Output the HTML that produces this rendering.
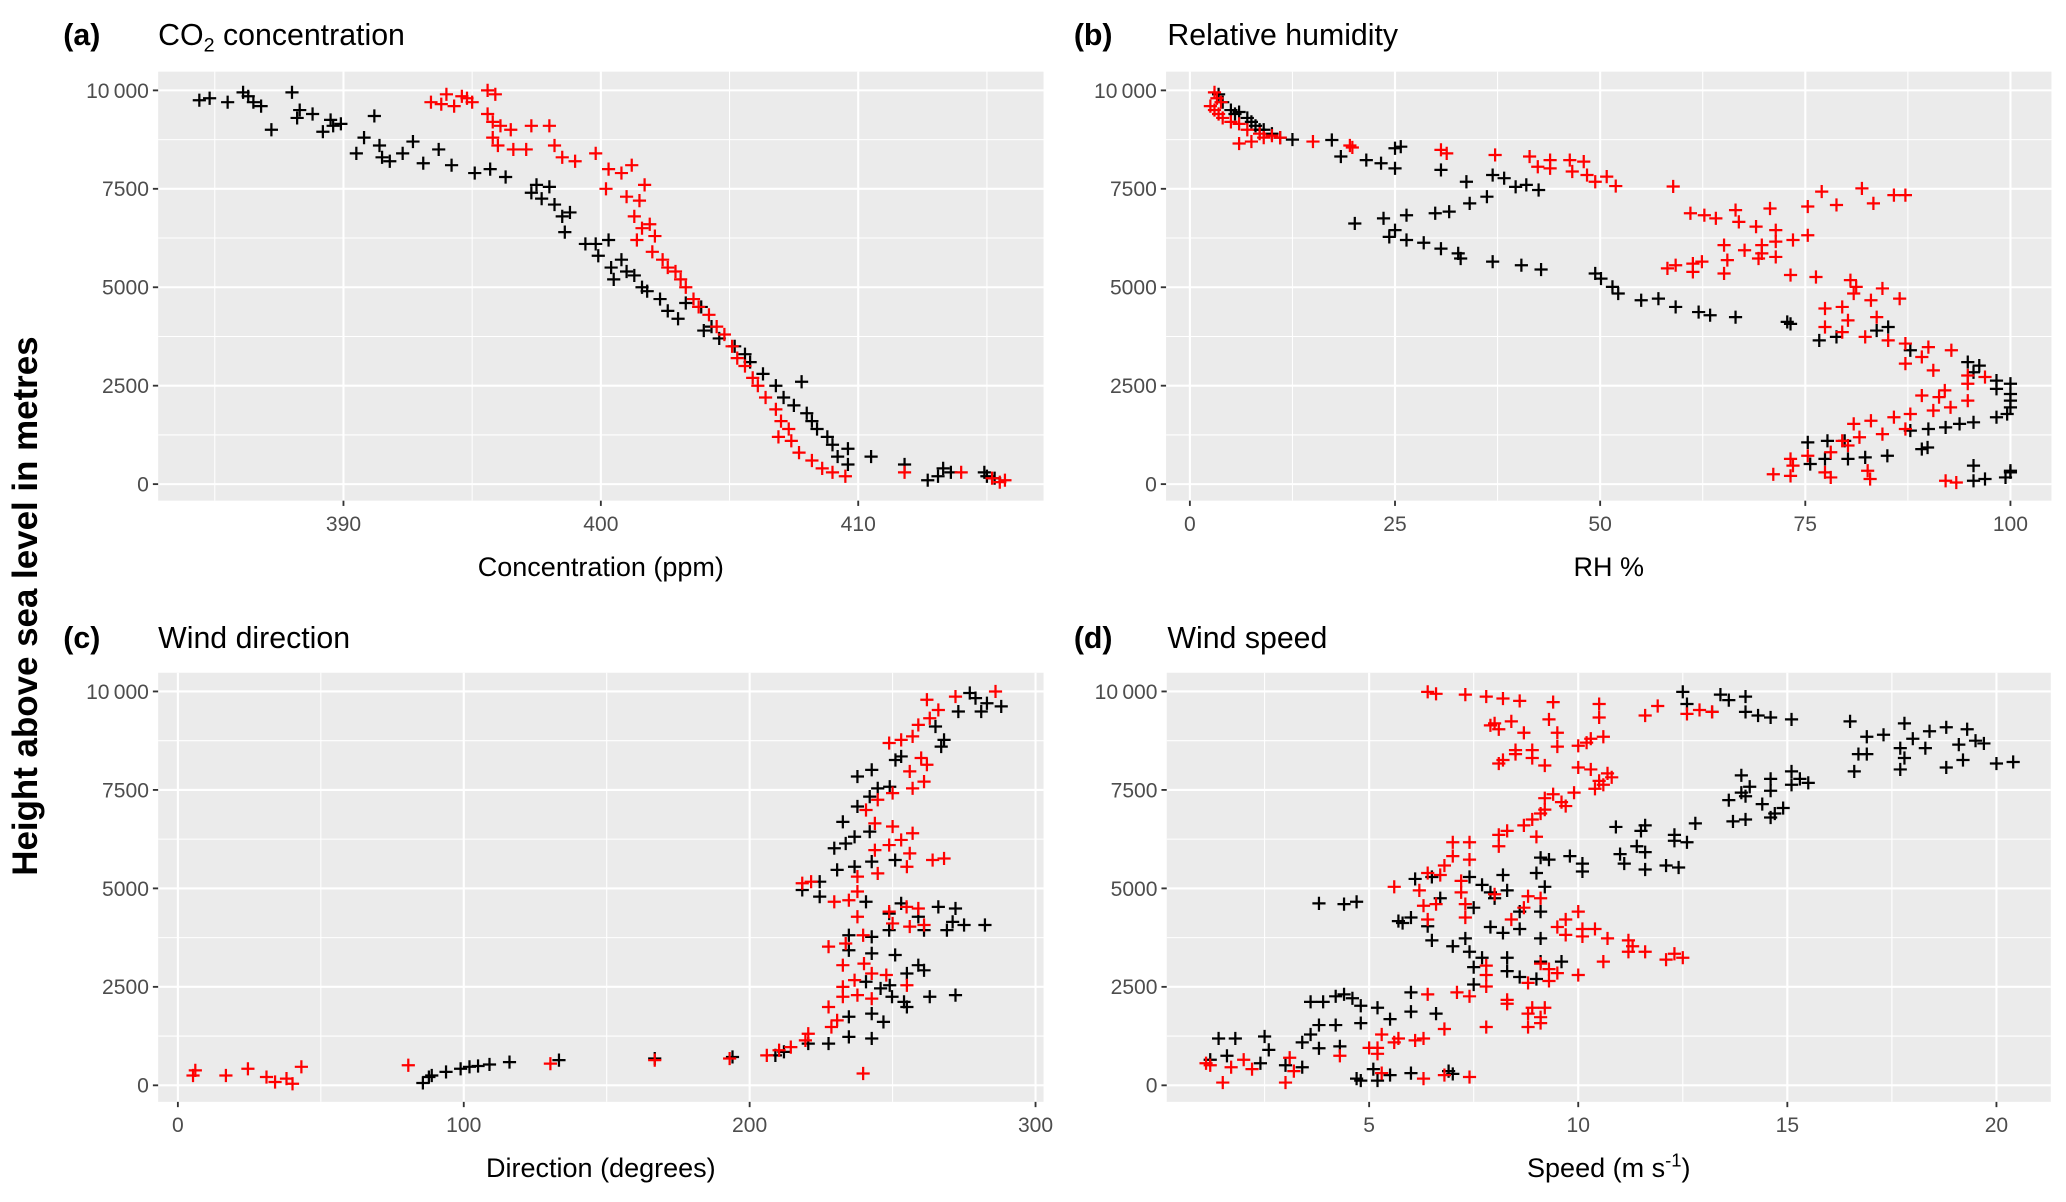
<!DOCTYPE html>
<html><head><meta charset="utf-8"><style>
html,body{margin:0;padding:0;background:#fff;}
svg{display:block;font-family:"Liberation Sans",Arial,sans-serif;}
</style></head><body>
<svg id="fig" width="2066" height="1202" viewBox="0 0 1568 912.3" xmlns="http://www.w3.org/2000/svg">
<text x="0" y="0" transform="translate(28,460) rotate(-90)" text-anchor="middle" font-size="26.5" font-weight="bold">Height above sea level in metres</text>
</svg>
<script>
// ---------- data (x value, height in m) ----------
const co2Black = [[384.4,9750],[384.8,9800],[385.5,9700],[386.1,9950],[386.3,9850],[386.5,9700],[386.8,9600],[387.2,9000],[388.0,9950],[388.2,9300],[388.3,9500],[388.8,9400],[389.2,8950],[389.5,9250],[389.6,9100],[389.9,9150],[390.5,8400],[390.8,8800],[391.2,9350],[391.4,8600],[391.5,8300],[391.8,8200],[392.3,8400],[392.7,8700],[393.1,8150],[393.7,8500],[394.2,8100],[395.1,7900],[395.7,8000],[396.3,7800],[397.3,7400],[397.5,7600],[397.7,7250],[398.0,7550],[398.2,7100],[398.5,6800],[398.8,6900],[398.6,6400],[399.4,6100],[399.8,6100],[399.9,5800],[400.3,6200],[400.4,5500],[400.5,5200],[400.8,5700],[401.0,5400],[401.3,5300],[401.6,5000],[401.8,4900],[402.3,4700],[402.6,4400],[403.0,4200],[403.3,4600],[403.9,4500],[404.0,3900],[404.3,4000],[404.6,3700],[405.2,3500],[405.6,3300],[405.8,3100],[406.3,2800],[406.8,2500],[407.1,2200],[407.5,2000],[407.8,2600],[408.0,1800],[408.2,1600],[408.4,1400],[408.8,1200],[409.0,1000],[409.2,700],[409.6,500],[409.6,900],[410.5,700],[411.8,500],[412.7,100],[413.1,200],[413.3,400],[413.6,300],[414.9,300],[415.0,200],[415.3,150]];
const co2Red = [[393.4,9700],[393.8,9650],[394.0,9900],[394.3,9600],[394.6,9850],[394.8,9800],[395.0,9700],[395.6,10000],[395.9,9900],[395.6,9400],[395.8,9200],[396.1,9100],[396.5,9000],[395.8,8800],[396.0,8600],[396.6,8500],[397.1,8500],[397.3,9100],[398.0,9100],[398.2,8600],[398.5,8300],[399.0,8200],[399.8,8400],[400.3,8000],[400.2,7500],[400.8,7900],[401.2,8100],[401.7,7600],[401.5,7200],[401.0,7300],[401.3,6800],[401.6,6500],[401.9,6600],[402.1,6300],[401.4,6200],[402.0,5900],[402.4,5700],[402.6,5500],[402.9,5400],[403.1,5200],[403.3,5000],[403.6,4700],[403.8,4500],[404.2,4300],[404.5,4000],[404.8,3800],[405.1,3500],[405.3,3200],[405.6,3000],[405.9,2700],[406.1,2500],[406.4,2200],[406.8,1900],[407.0,1600],[407.3,1400],[406.9,1200],[407.4,1100],[407.7,800],[408.2,600],[408.6,400],[409.0,300],[409.5,200],[411.8,300],[414.0,300],[415.2,150],[415.5,50],[415.7,100]];
const rhBlack = [[3.5,9900],[4,9700],[5,9500],[6,9450],[7,9300],[8,9100],[9,9000],[10,8900],[11,8800],[12.5,8750],[7.5,9200],[8.5,9000],[5.5,9400],[25.7,8570],[17.3,8740],[18.4,8320],[21.5,8230],[23.3,8150],[25,8020],[25,8530],[30.6,7980],[33.7,7680],[36.9,7850],[38.3,7770],[41,7600],[42.5,7470],[39.7,7550],[36.2,7300],[34.1,7130],[31.6,6920],[29.9,6880],[26.4,6830],[23.6,6750],[20.1,6620],[25,6450],[24.3,6280],[26.4,6200],[28.5,6130],[30.6,5980],[32.7,5860],[33,5730],[36.9,5650],[40.4,5560],[42.8,5450],[49.4,5350],[50.1,5220],[51.5,5010],[52.2,4840],[55,4670],[57.1,4710],[59.2,4500],[62,4370],[63.4,4290],[66.5,4240],[72.8,4120],[73.2,4070],[76.7,3650],[78.8,3740],[83.7,3900],[85.1,3990],[87.8,3400],[94.8,3100],[96.2,3010],[95.5,2840],[98.3,2630],[100,2550],[98.3,2420],[100,2290],[100,2120],[100,1950],[99.6,1780],[98.3,1700],[95.5,1570],[93.8,1530],[92.1,1440],[90,1400],[87.8,1360],[89.2,890],[89.9,930],[85,720],[82.3,680],[80.2,640],[77.4,640],[75.6,510],[75.3,1060],[77.7,1100],[79.8,1100],[95.5,470],[95.5,85],[96.9,130],[99.4,170],[100,300],[100,340]];
const rhRed = [[3,9950],[3.3,9800],[3.8,9700],[2.5,9600],[3,9500],[3.5,9400],[4,9300],[5,9200],[6,9150],[7,9000],[8.5,8900],[10,8850],[11,8800],[7.5,8700],[6,8650],[9,8800],[15,8700],[19.5,8600],[19.8,8550],[30.6,8490],[31.3,8400],[37.2,8360],[41.4,8320],[43.9,8230],[42.4,8060],[43.9,8020],[46.3,8230],[48,8190],[46.6,7940],[48.4,7850],[49.4,7680],[50.8,7810],[51.9,7570],[58.9,7560],[61,6880],[62.7,6830],[64.1,6750],[66.5,6960],[70.7,7000],[66.9,6660],[69,6540],[71.4,6450],[75.3,7050],[77,7430],[78.8,7090],[81.9,7510],[83.3,7130],[85.8,7340],[87.2,7340],[75.3,6320],[73.5,6200],[71.4,6160],[69.7,6070],[65.1,6070],[67.6,5940],[69.7,5860],[71.4,5770],[69.3,5730],[65.5,5690],[62.4,5650],[61.3,5600],[59.2,5560],[58.2,5480],[61.3,5390],[65.1,5350],[73.2,5310],[76.3,5260],[80.5,5180],[81.2,5010],[84.4,4970],[86.5,4710],[83,4670],[80.9,4840],[79.5,4500],[77.4,4460],[83.7,4240],[80.2,4160],[77.4,3990],[79.5,3860],[82.3,3740],[85.1,3650],[87.2,3570],[90,3480],[92.8,3400],[89.2,3230],[87.2,3060],[90.6,2890],[94.8,2760],[96.9,2720],[94.8,2550],[92,2380],[89.2,2250],[91.3,2210],[94.8,2120],[92.7,1950],[90.6,1870],[87.8,1780],[85.8,1700],[83,1610],[80.9,1530],[87.2,1400],[84.4,1270],[81.6,1190],[79.5,1100],[80.2,980],[78.1,810],[75.3,720],[73.2,640],[73.5,470],[77.4,300],[82.6,340],[71.1,250],[73.2,210],[78.1,170],[82.9,130],[92.1,85],[93.4,40]];
const dirBlack = [[85.7,60],[87.8,210],[88.8,250],[93.8,340],[98.9,420],[102,470],[105,490],[109,530],[116,590],[133.3,640],[166.8,680],[194,720],[209,760],[212,850],[220.5,1060],[227.6,1060],[234.7,1230],[242.7,1190],[246.8,1610],[234.7,1740],[242.7,1820],[255,1990],[254,2120],[249.8,2250],[263,2250],[272,2290],[245.8,2460],[249,2540],[240.7,2630],[255,2840],[261,2920],[259,3050],[250.9,3310],[242.7,3350],[234.7,3430],[242.7,3770],[234.7,3810],[248.8,3940],[261,3940],[269,3940],[275,4070],[282.3,4070],[271,4150],[259,4280],[248.8,4360],[253,4620],[266,4530],[272,4490],[240.7,4660],[224.5,4790],[218.4,4960],[224.5,5170],[230.6,5470],[236.7,5550],[242.7,5680],[250.9,5720],[229.6,6020],[233.6,6140],[236.7,6310],[242,6440],[232.6,6690],[237.7,7080],[242,7330],[244.8,7540],[249,7580],[237.7,7840],[242.7,8010],[251,8260],[253,8350],[268,8770],[267,8600],[265,9110],[273,9490],[281,9490],[283,9700],[288,9620],[277,9960],[279,9830]];
const dirRed = [[5.3,250],[6.1,380],[16.8,250],[24.5,420],[31,210],[34,85],[38,170],[40.1,40],[43.2,470],[80.6,510],[130.3,550],[166.8,640],[193,680],[206,760],[210.3,890],[214.4,970],[219.5,1140],[220.5,1310],[228.6,1480],[230.6,1650],[227.6,1990],[232.6,2250],[237.7,2290],[242.7,2200],[232.6,2500],[236.7,2670],[242.7,2840],[247.8,2800],[255,2540],[232.6,3050],[240,3090],[227.6,3520],[233.6,3600],[239.7,3810],[250,4110],[256,4030],[261,4070],[237.7,4280],[248.8,4410],[254.9,4530],[259,4490],[234.7,4700],[229.6,4660],[237.7,4920],[218.4,5130],[221.5,5170],[237.7,5300],[244.8,5380],[255,5550],[264,5720],[268,5760],[256,5890],[243.8,5970],[248.8,6100],[253,6230],[257,6400],[250,6570],[243.8,6650],[240.7,6990],[244.8,7250],[250,7420],[257,7540],[261,7710],[256,7970],[262,8140],[260,8310],[248.8,8690],[253,8770],[257,8860],[259,9150],[263,9320],[266,9530],[262,9790],[272,9870],[286,10000],[239.7,300]];
const spdBlack = [[12.5,9990],[12.6,9680],[13.4,9920],[13.6,9780],[13.2,9480],[14,9870],[14,9480],[14.3,9390],[14.6,9340],[15.1,9290],[16.5,9240],[16.9,8850],[17.3,8900],[17.8,9190],[18,8800],[18.4,8990],[18.8,9090],[19.3,9040],[19.1,8650],[19.5,8750],[19.7,8680],[20,8170],[20.4,8210],[19.2,8260],[18.8,8070],[18.3,8560],[17.7,8560],[17.8,8310],[17.7,8020],[16.9,8410],[16.7,8410],[16.6,7970],[13.9,7870],[14.1,7580],[14.6,7780],[15.1,7970],[15.3,7780],[15.5,7680],[14.6,7480],[15.1,7630],[13.9,7430],[13.6,7240],[14,7340],[14.4,7140],[14.9,7040],[14.7,6900],[14.6,6800],[14,6750],[13.7,6700],[12.8,6650],[10.9,6560],[11.6,6600],[11.5,6460],[12.3,6360],[12.6,6170],[12.3,6210],[11.4,6070],[11.6,5920],[11,5870],[11.1,5630],[11.6,5480],[12.1,5580],[12.4,5530],[9.8,5820],[10.1,5630],[10.1,5430],[9.1,5780],[9.3,5730],[9,5390],[9.2,5040],[8.2,5340],[7.4,5290],[6.1,5240],[6.5,5290],[7.7,5090],[7.9,4900],[8.3,4950],[8,4750],[8.6,4410],[9.1,4410],[7.5,4510],[6.7,4750],[5.7,4170],[5.8,4120],[6,4260],[6.4,4040],[7.9,4020],[8.2,3870],[8.6,3970],[9.1,3730],[6.5,3680],[7,3530],[7.4,3390],[7.3,3730],[7.7,3240],[8.3,3240],[9.1,3140],[9.6,3140],[7.5,3000],[8.3,2900],[8.6,2750],[9,2700],[7.5,2560],[6,2360],[4.4,2310],[4.2,2260],[3.6,2120],[3.9,2120],[4.6,2210],[4.8,2020],[5.2,1970],[6,1870],[6.6,1820],[5.5,1680],[4.8,1580],[4.2,1530],[3.8,1530],[3.6,1290],[3.4,1090],[3.8,940],[4.3,990],[2.5,1240],[1.8,1190],[1.4,1190],[2.6,900],[1.6,750],[1.2,650],[2.4,560],[3,510],[3.4,460],[4.7,170],[4.8,120],[5.1,410],[5.2,120],[6,310],[6.9,360],[7,290],[5.5,260],[3.8,4620],[4.4,4600],[4.7,4660]];
const spdRed = [[6.4,9990],[6.6,9940],[7.3,9920],[7.8,9870],[8.2,9820],[8.6,9760],[9.4,9730],[10.5,9680],[11.9,9630],[11.6,9390],[12.6,9430],[12.9,9530],[13.2,9480],[10.5,9340],[9.3,9290],[8.4,9240],[7.9,9140],[8,9190],[8.1,9040],[8.7,8950],[9.5,8950],[10.6,8850],[10.3,8800],[10.2,8700],[10,8620],[9.5,8600],[8.5,8510],[8.9,8510],[8.5,8410],[8.9,8310],[9.2,8120],[8.1,8170],[8.2,8260],[10,8070],[10.3,8020],[10.7,7920],[10.8,7820],[10.5,7730],[10.6,7630],[10.4,7530],[9.9,7430],[9.4,7390],[9.2,7290],[9.6,7190],[9.7,7090],[9.2,7000],[9.1,6900],[8.9,6750],[8.7,6600],[8.3,6460],[8.1,6360],[9,6310],[8.1,6070],[7.4,6170],[7,6170],[7,5820],[7.4,5730],[6.8,5580],[6.4,5390],[6.7,5340],[7.2,5190],[5.6,5040],[6.2,4950],[7.2,4900],[8,4850],[8.8,4800],[9.1,4750],[6.6,4600],[6.3,4560],[7.3,4600],[8.7,4510],[10,4410],[9.7,4210],[8.4,4210],[7.3,4260],[6.4,4210],[9.5,4020],[10.1,3970],[10.4,3970],[9.7,3820],[10.1,3780],[10.7,3730],[11.2,3680],[11.3,3530],[11.2,3390],[11.6,3390],[12.3,3340],[12.1,3190],[12.5,3240],[10.6,3140],[9.1,3090],[9.3,2950],[9.5,2850],[10,2800],[9.3,2650],[8.8,2600],[7.8,3040],[7.8,2800],[7.8,2510],[7.1,2360],[7.4,2260],[8.3,2170],[8.3,2070],[8.9,1970],[9.2,1970],[8.8,1820],[9.1,1730],[9.1,1580],[8.8,1480],[7.8,1480],[6.8,1430],[6.4,2310],[6.3,1190],[6.1,1140],[5.7,1190],[5.3,1290],[5.6,1090],[5.2,950],[5,950],[5.2,800],[4.3,750],[3.1,700],[3.2,360],[3,70],[2.2,410],[1.7,460],[1.5,70],[1.1,560],[1.2,510],[2,650],[5.3,310],[6.3,170],[6.8,260],[7.4,210]];

const yTicks = [0,2500,5000,7500,10000];
const yTickLabels = ["0","2500","5000","7500","10\u2009000"];
const co2Ticks = [390,400,410];
const rhTicks = [0,25,50,75,100];
const dirTicks = [0,100,200,300];
const spdTicks = [5,10,15,20];

const NS = "http://www.w3.org/2000/svg";
const svg = document.getElementById('fig');
function mk(tag, attrs, parent){const e=document.createElementNS(NS,tag);for(const k in attrs)e.setAttribute(k,attrs[k]);(parent||svg).appendChild(e);return e;}

const panels = [
 {id:'co2', tag:'(a)', title:'CO<tspan font-size="15" dy="5">2</tspan><tspan dy="-5"> concentration</tspan>', xt:'Concentration (ppm)', px:[120,792], py:[54.4,380], xd:[382.8,417.2], ticks:co2Ticks, black:co2Black, red:co2Red, tagX:48, titleX:120, titleY:34},
 {id:'rh', tag:'(b)', title:'Relative humidity', xt:'RH %', px:[885,1557], py:[54.4,380], xd:[-2.9,105], ticks:rhTicks, black:rhBlack, red:rhRed, tagX:815, titleX:886, titleY:34},
 {id:'dir', tag:'(c)', title:'Wind direction', xt:'Direction (degrees)', px:[120,792], py:[510.6,836.3], xd:[-6.9,302.8], ticks:dirTicks, black:dirBlack, red:dirRed, tagX:48, titleX:120, titleY:492},
 {id:'spd', tag:'(d)', title:'Wind speed', xt:'Speed (m s<tspan font-size="14" dy="-8">-1</tspan><tspan dy="8">)</tspan>', px:[885.5,1556.5], py:[510.6,836.3], xd:[0.16,21.3], ticks:spdTicks, black:spdBlack, red:spdRed, tagX:815, titleX:886, titleY:492}
];

panels.forEach(p=>{
  const g = mk('g',{});
  
  
  const [x0,x1]=p.px,[y0,y1]=p.py;
  const yd=[-420,10475];
  const sx=v=>x0+(v-p.xd[0])/(p.xd[1]-p.xd[0])*(x1-x0);
  const sy=v=>y1-(v-yd[0])/(yd[1]-yd[0])*(y1-y0);
  const bg = mk('rect',{x:x0,y:y0,width:x1-x0,height:y1-y0,fill:'#EBEBEB'},g);
  
  
  const step=p.ticks[1]-p.ticks[0];
  for(let v=p.ticks[0]-step/2; v<=p.xd[1]; v+=step){ if(v<p.xd[0])continue; mk('line',{x1:sx(v),x2:sx(v),y1:y0,y2:y1,stroke:'#fff','stroke-width':0.8},g);}
  for(let i=0;i<yTicks.length-1;i++){const v=(yTicks[i]+yTicks[i+1])/2; mk('line',{x1:x0,x2:x1,y1:sy(v),y2:sy(v),stroke:'#fff','stroke-width':0.8},g);}
  p.ticks.forEach(v=>{
    mk('line',{x1:sx(v),x2:sx(v),y1:y0,y2:y1,stroke:'#fff','stroke-width':1.6},g);
    mk('line',{x1:sx(v),x2:sx(v),y1:y1,y2:y1+4,stroke:'#333','stroke-width':1.4},g);
    const t=mk('text',{x:sx(v),y:y1+23,'text-anchor':'middle','font-size':16,fill:'#4D4D4D'},g);
    
    
    t.textContent=v;
  });
  yTicks.forEach((v,i)=>{
    mk('line',{x1:x0,x2:x1,y1:sy(v),y2:sy(v),stroke:'#fff','stroke-width':1.6},g);
    mk('line',{x1:x0-4,x2:x0,y1:sy(v),y2:sy(v),stroke:'#333','stroke-width':1.4},g);
    const t=mk('text',{x:x0-7,y:sy(v)+5.6,'text-anchor':'end','font-size':16,fill:'#4D4D4D'},g);
    
    
    t.textContent=yTickLabels[i];
  });
  [[p.black,'#000000','black'],[p.red,'#FF0000','red']].forEach(([arr,col,nm])=>{
    const sg=mk('g',{stroke:col,'stroke-width':1.7},g);
    
    
    arr.forEach(d=>{
      const cx=sx(d[0]),cy=sy(d[1]),r=5;
      const pt=mk('path',{d:`M${cx-r},${cy}H${cx+r}M${cx},${cy-r}V${cy+r}`},sg);
      
      
    });
  });
  const tg=mk('text',{x:p.tagX,y:p.titleY,'font-size':23,'font-weight':'bold'},g);
  
  
  tg.textContent=p.tag;
  const tt=mk('text',{x:p.titleX,y:p.titleY,'font-size':23},g);
  
  
  tt.innerHTML=p.title;
  const xt=mk('text',{x:(x0+x1)/2,y:y1+57,'text-anchor':'middle','font-size':20.5},g);
  
  
  xt.innerHTML=p.xt;
});
</script>
</body></html>
